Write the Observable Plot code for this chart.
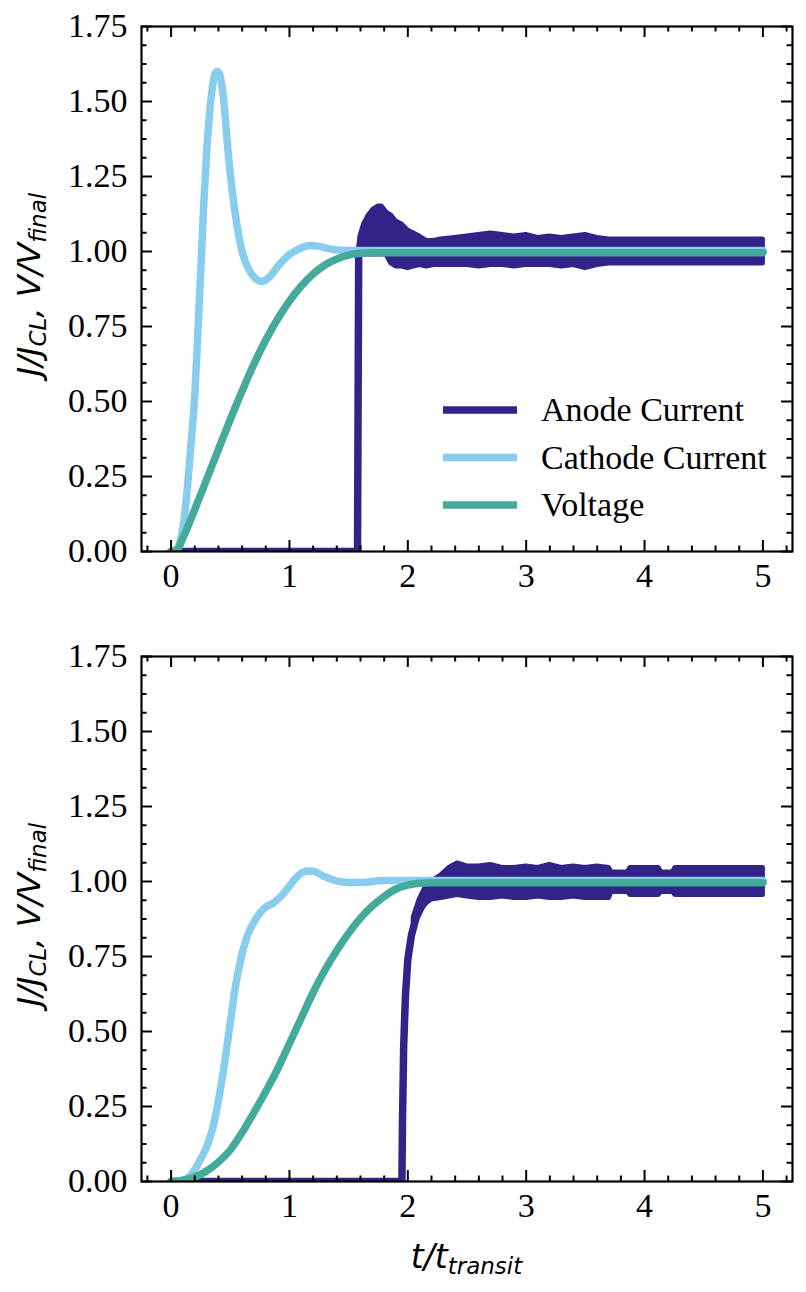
<!DOCTYPE html>
<html><head><meta charset="utf-8">
<script src="https://cdn.jsdelivr.net/npm/d3@7"></script>
<script src="https://cdn.jsdelivr.net/npm/@observablehq/plot@0.6"></script>
<style>body{margin:0;background:#fff} #fig svg{display:block}</style>
</head><body><div id="fig"></div>
<script>
// ---------- axis ticks ----------
const xMajor = [0, 1, 2, 3, 4, 5];
const xMinor = [-0.2, 0.2, 0.4, 0.6, 0.8, 1.2, 1.4, 1.6, 1.8, 2.2, 2.4, 2.6, 2.8, 3.2, 3.4, 3.6, 3.8, 4.2, 4.4, 4.6, 4.8, 5.2];
const yMajor = [0, 0.25, 0.5, 0.75, 1.0, 1.25, 1.5, 1.75];
const yMinor = [0.0625, 0.125, 0.1875, 0.3125, 0.375, 0.4375, 0.5625, 0.625, 0.6875, 0.8125, 0.875, 0.9375,
  1.0625, 1.125, 1.1875, 1.3125, 1.375, 1.4375, 1.5625, 1.625, 1.6875];
const seriesNames = ["Anode Current", "Cathode Current", "Voltage"];

// ---------- top panel ----------
const topCathT = [0, 0.05, 0.08, 0.1, 0.125, 0.15, 0.175, 0.2, 0.225, 0.25, 0.275, 0.3, 0.325, 0.35, 0.375, 0.39, 0.41, 0.44, 0.48, 0.52, 0.56, 0.6, 0.65, 0.7, 0.77, 0.83, 0.9, 1.0, 1.1, 1.17, 1.25, 1.35, 1.5, 1.7, 5.0];
const topCathV = [0, 0.01, 0.04, 0.08, 0.16, 0.27, 0.39, 0.52, 0.72, 0.93, 1.15, 1.33, 1.46, 1.55, 1.595, 1.60, 1.59, 1.52, 1.34, 1.19, 1.08, 1.0, 0.945, 0.915, 0.90, 0.915, 0.95, 0.99, 1.012, 1.02, 1.017, 1.008, 1.003, 1.003, 1.003];
const topVoltT = [0, 0.05, 0.1, 0.2, 0.3, 0.4, 0.5, 0.6, 0.7, 0.8, 0.9, 1.0, 1.1, 1.2, 1.3, 1.4, 1.5, 1.6, 1.7, 2.0, 5.0];
const topVoltV = [0, 0.005, 0.045, 0.14, 0.24, 0.34, 0.44, 0.535, 0.625, 0.705, 0.775, 0.835, 0.885, 0.925, 0.955, 0.975, 0.988, 0.994, 0.996, 0.996, 0.996];
const topAnodeT = [0, 1.575, 1.58, 1.585, 5.0];
const topAnodeV = [0, 0, 0.5, 1.0, 1.0];
const topBandT  = [1.585, 1.60, 1.63, 1.67, 1.71, 1.75, 1.78, 1.82, 1.86, 1.90, 1.95, 2.00, 2.05, 2.10, 2.16, 2.22, 2.28, 2.40, 2.50, 2.60, 2.70, 2.80, 2.90, 3.00, 3.10, 3.20, 3.30, 3.40, 3.50, 3.60, 3.70, 4.00, 4.50, 5.00];
const topBandHi = [1.00, 1.05, 1.09, 1.12, 1.14, 1.15, 1.15, 1.13, 1.12, 1.10, 1.09, 1.07, 1.06, 1.05, 1.035, 1.035, 1.04, 1.045, 1.05, 1.055, 1.06, 1.055, 1.05, 1.055, 1.045, 1.05, 1.045, 1.05, 1.055, 1.045, 1.04, 1.04, 1.04, 1.04];
const topBandLo = [0.99, 0.99, 0.99, 0.99, 0.99, 0.99, 0.99, 0.99, 0.96, 0.95, 0.95, 0.945, 0.95, 0.955, 0.95, 0.955, 0.955, 0.955, 0.955, 0.95, 0.955, 0.955, 0.95, 0.955, 0.955, 0.955, 0.95, 0.955, 0.945, 0.955, 0.96, 0.96, 0.96, 0.96];

// ---------- bottom panel ----------
const botCathT = [0, 0.1, 0.15, 0.2, 0.25, 0.3, 0.35, 0.4, 0.45, 0.5, 0.55, 0.6, 0.65, 0.7, 0.75, 0.8, 0.85, 0.9, 0.95, 1.0, 1.05, 1.1, 1.15, 1.2, 1.3, 1.4, 1.5, 1.6, 1.8, 5.0];
const botCathV = [0, 0.003, 0.015, 0.04, 0.075, 0.115, 0.175, 0.27, 0.39, 0.53, 0.665, 0.76, 0.825, 0.865, 0.895, 0.915, 0.925, 0.94, 0.96, 0.985, 1.01, 1.028, 1.035, 1.034, 1.016, 1.002, 0.997, 0.997, 1.003, 1.003];
const botVoltT = [0, 0.1, 0.2, 0.3, 0.4, 0.5, 0.6, 0.7, 0.8, 0.9, 1.0, 1.1, 1.2, 1.3, 1.4, 1.5, 1.6, 1.7, 1.8, 1.9, 2.0, 2.1, 2.2, 5.0];
const botVoltV = [0, 0.004, 0.015, 0.035, 0.065, 0.105, 0.163, 0.23, 0.30, 0.375, 0.46, 0.545, 0.63, 0.705, 0.77, 0.828, 0.878, 0.918, 0.95, 0.975, 0.988, 0.994, 0.996, 0.996];
const botAnodeT = [0, 1.95, 1.955, 1.965, 1.98, 2.0, 2.03, 2.07, 2.12, 2.2, 2.3, 2.5, 5.0];
const botAnodeV = [0, 0, 0.2, 0.45, 0.62, 0.74, 0.82, 0.88, 0.92, 0.96, 0.98, 1.0, 1.0];
const botBandT  = [2.05, 2.10, 2.15, 2.20, 2.28, 2.35, 2.42, 2.50, 2.60, 2.70, 2.80, 2.90, 3.00, 3.10, 3.20, 3.30, 3.40, 3.50, 3.60, 3.70, 3.72, 3.86, 3.88, 4.12, 4.14, 4.24, 4.26, 5.00];
const botBandHi = [0.88, 0.94, 0.98, 1.00, 1.02, 1.045, 1.06, 1.05, 1.05, 1.055, 1.045, 1.045, 1.05, 1.045, 1.055, 1.045, 1.05, 1.045, 1.05, 1.045, 1.03, 1.03, 1.045, 1.045, 1.03, 1.03, 1.045, 1.045];
const botBandLo = [0.84, 0.90, 0.925, 0.94, 0.945, 0.95, 0.955, 0.95, 0.945, 0.945, 0.95, 0.945, 0.945, 0.95, 0.945, 0.945, 0.95, 0.945, 0.945, 0.945, 0.965, 0.965, 0.955, 0.955, 0.965, 0.965, 0.955, 0.955];

const colors = ["#332288", "#88CCEE", "#44AA99"];
const zip = (T, V) => T.map((t, i) => ({t, v: V[i]}));
const zipBand = (T, H, L) => T.map((t, i) => ({t, hi: H[i], lo: L[i]}));

const SW = 7.5;
const SERIF = "'Liberation Serif', 'Times New Roman', serif";
const FS = 34;
const PW = 651, PH = 525; // plot frame size
const MAJ = 11, MIN = 5.5;

function ticks() {
  const k = {stroke: "black", strokeWidth: 2};
  return [
    Plot.tickX(xMajor, {x: d => d, insetTop: PH - MAJ, ...k}),
    Plot.tickX(xMajor, {x: d => d, insetBottom: PH - MAJ, ...k}),
    Plot.tickX(xMinor, {x: d => d, insetTop: PH - MIN, ...k}),
    Plot.tickX(xMinor, {x: d => d, insetBottom: PH - MIN, ...k}),
    Plot.tickY(yMajor, {y: d => d, insetRight: PW - MAJ, ...k}),
    Plot.tickY(yMajor, {y: d => d, insetLeft: PW - MAJ, ...k}),
    Plot.tickY(yMinor, {y: d => d, insetRight: PW - MIN, ...k}),
    Plot.tickY(yMinor, {y: d => d, insetLeft: PW - MIN, ...k})
  ];
}

function panel({cathT, cathV, voltT, voltV, anodeT, anodeV, bandT, bandHi, bandLo, height, marginTop, marginBottom}) {
  return Plot.plot({
    width: 806, height, marginLeft: 141, marginRight: 14, marginTop, marginBottom,
    x: {domain: [-0.25, 5.25], label: null},
    y: {domain: [0, 1.75], label: null},
    style: {fontFamily: SERIF, fontSize: FS + "px", color: "black", background: "white", overflow: "visible"},
    marks: [
      Plot.areaY(zipBand(bandT, bandHi, bandLo), {x: "t", y1: "lo", y2: "hi", fill: colors[0], stroke: colors[0], strokeWidth: 5, strokeLinejoin: "round", clip: true}),
      Plot.line(zip(anodeT, anodeV), {x: "t", y: "v", stroke: colors[0], strokeWidth: SW, clip: true}),
      Plot.line(zip(cathT, cathV), {x: "t", y: "v", stroke: colors[1], strokeWidth: SW, curve: "monotone-x", clip: true}),
      Plot.line(zip(voltT, voltV), {x: "t", y: "v", stroke: colors[2], strokeWidth: SW, curve: "monotone-x", clip: true}),
      ...ticks(),
      Plot.axisX(xMajor, {anchor: "bottom", tickSize: 0, tickPadding: 11, fontSize: FS, fontFamily: SERIF, tickFormat: d => String(d), label: null}),
      Plot.axisY(yMajor, {anchor: "left", tickSize: 0, tickPadding: 14, fontSize: FS, fontFamily: SERIF, tickFormat: d3.format(".2f"), label: null}),
      Plot.frame({stroke: "black", strokeWidth: 2.2})
    ]
  });
}

function addYLabel(svg, cy) {
  const t = d3.select(svg).append("text")
    .attr("transform", `translate(40,${cy}) rotate(-90)`)
    .attr("text-anchor", "middle")
    .attr("font-family", "'DejaVu Sans', sans-serif")
    .attr("font-style", "italic")
    .attr("font-size", 32)
    .attr("fill", "black");
  t.append("tspan").text("J/J");
  t.append("tspan").attr("font-size", 23).attr("dy", 6).text("CL");
  t.append("tspan").attr("dy", -6).text(", V/V");
  t.append("tspan").attr("font-size", 23).attr("dy", 6).text("final");
}

const fig = document.getElementById("fig");
const topSvg = panel({cathT: topCathT, cathV: topCathV, voltT: topVoltT, voltV: topVoltV, anodeT: topAnodeT, anodeV: topAnodeV,
  bandT: topBandT, bandHi: topBandHi, bandLo: topBandLo, height: 605, marginTop: 26, marginBottom: 54});
const botSvg = panel({cathT: botCathT, cathV: botCathV, voltT: botVoltT, voltV: botVoltV, anodeT: botAnodeT, anodeV: botAnodeV,
  bandT: botBandT, bandHi: botBandHi, bandLo: botBandLo, height: 687, marginTop: 51, marginBottom: 111});
fig.appendChild(topSvg);
fig.appendChild(botSvg);

addYLabel(topSvg, 284.5);
addYLabel(botSvg, 309.5);

// x label
{
  const t = d3.select(botSvg).append("text")
    .attr("x", 466.5).attr("y", 663)
    .attr("text-anchor", "middle")
    .attr("font-family", "'DejaVu Sans', sans-serif")
    .attr("font-style", "italic")
    .attr("font-size", 33)
    .attr("fill", "black");
  t.append("tspan").text("t/t");
  t.append("tspan").attr("font-size", 23).attr("dy", 6).text("transit");
}

// legend (top panel)
{
  const g = d3.select(topSvg).append("g").attr("class", "legend");
  seriesNames.forEach((name, i) => {
    const y = 410 + i * 47.5;
    g.append("line").attr("x1", 443).attr("x2", 517).attr("y1", y).attr("y2", y)
      .attr("stroke", colors[i]).attr("stroke-width", 7.5);
    g.append("text").attr("x", 541).attr("y", y + 11)
      .attr("text-anchor", "start")
      .attr("font-family", SERIF)
      .attr("font-size", FS).attr("fill", "black").text(name);
  });
}
</script></body></html>
